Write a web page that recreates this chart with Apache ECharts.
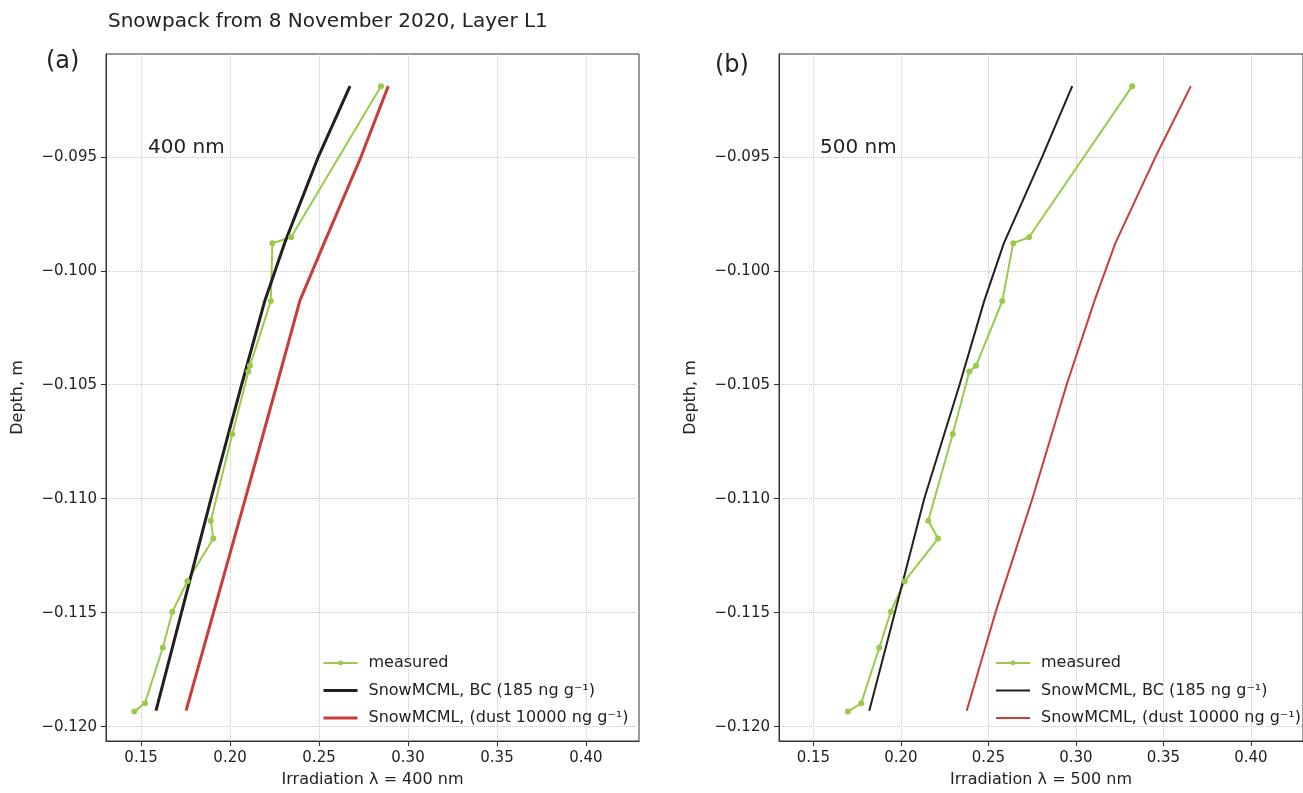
<!DOCTYPE html>
<html>
<head>
<meta charset="utf-8">
<script src="https://cdn.jsdelivr.net/npm/echarts@6.0.0/dist/echarts.min.js"></script>
<style>
  html, body { margin: 0; padding: 0; background: #fff; }
  #chart { width: 1303px; height: 793px; }
</style>
</head>
<body>
<div id="chart"></div>
<script>
// depths of the measured points (m)
var depthMeasured = [-0.0919, -0.09853, -0.09879, -0.10133, -0.10417, -0.10442, -0.10716,
  -0.11097, -0.11175, -0.11362, -0.11496, -0.11654, -0.11897, -0.11934];
var measured400 = [0.2848, 0.2343, 0.2238, 0.2229, 0.2112, 0.2103, 0.2013,
  0.1892, 0.1906, 0.1760, 0.1676, 0.1622, 0.1522, 0.1462];
var measured500 = [0.3322, 0.2732, 0.2642, 0.2579, 0.2429, 0.2391, 0.2296,
  0.2156, 0.2212, 0.2021, 0.1942, 0.1876, 0.1773, 0.1697];

// model profiles (SnowMCML)
var depthModel = [-0.0919, -0.095, -0.0988, -0.1013, -0.105, -0.110, -0.115, -0.1193];
var bc400 = [0.2674, 0.2496, 0.2306, 0.2196, 0.2065, 0.1893, 0.1727, 0.1584];
var dust400 = [0.2889, 0.2736, 0.2528, 0.2393, 0.2263, 0.2086, 0.1907, 0.1753];
var bc500 = [0.2979, 0.2807, 0.2588, 0.2477, 0.2335, 0.2133, 0.1965, 0.1819];
var dust500 = [0.3657, 0.3455, 0.3225, 0.3107, 0.2947, 0.2751, 0.2540, 0.2376];

var xTicks = [0.15, 0.20, 0.25, 0.30, 0.35, 0.40];
var yTicks = [-0.120, -0.115, -0.110, -0.105, -0.100, -0.095];

var names = ['measured', 'SnowMCML, BC (185 ng g⁻¹)', 'SnowMCML, (dust 10000 ng g⁻¹)'];
var cGreen = '#9bc94a', cBlack = '#231f20', cRed = '#c93c3b';
var font = 'DejaVu Sans';

function pairs(xs, ys) {
  return xs.map(function (v, i) { return [v, ys[i]]; });
}

function xAxisFor(idx, nm) {
  return {
    type: 'value', gridIndex: idx, min: 0.1303, max: 0.4298,
    name: 'Irradiation λ = ' + nm + ' nm', nameLocation: 'middle', nameGap: 31,
    nameTextStyle: { fontFamily: font, fontSize: 16, color: '#222' },
    axisLine: { show: true, onZero: false, lineStyle: { color: '#333', width: 1 } },
    axisTick: { show: true, inside: false, length: 5, customValues: xTicks, lineStyle: { color: '#333' } },
    axisLabel: { customValues: xTicks, margin: 10, fontFamily: font, fontSize: 15, color: '#222',
      formatter: function (v) { return v.toFixed(2); } },
    splitLine: { show: true, lineStyle: { type: 'dotted', color: '#c8c8c8', width: 1 } }
  };
}

function yAxisFor(idx) {
  return {
    type: 'value', gridIndex: idx, min: -0.12063, max: -0.09049,
    name: 'Depth, m', nameLocation: 'middle', nameGap: 80, nameRotate: 90,
    nameTextStyle: { fontFamily: font, fontSize: 16, color: '#222' },
    axisLine: { show: true, onZero: false, lineStyle: { color: '#333', width: 1 } },
    axisTick: { show: true, inside: false, length: 5, customValues: yTicks, lineStyle: { color: '#333' } },
    axisLabel: { customValues: yTicks, margin: 9, fontFamily: font, fontSize: 15, color: '#222',
      formatter: function (v) { return '\u2212' + Math.abs(v).toFixed(3); } },
    splitLine: { show: true, lineStyle: { type: 'dotted', color: '#c8c8c8', width: 1 } }
  };
}

function seriesFor(idx, meas, bc, dust, w) {
  return [{
    name: names[0], type: 'line', xAxisIndex: idx, yAxisIndex: idx,
    data: pairs(meas, depthMeasured), symbol: 'circle', symbolSize: 6, showSymbol: true,
    lineStyle: { color: cGreen, width: 2 }, itemStyle: { color: cGreen }
  }, {
    name: names[1], type: 'line', xAxisIndex: idx, yAxisIndex: idx,
    data: pairs(bc, depthModel), symbol: 'none', showSymbol: false,
    lineStyle: { color: cBlack, width: w }, itemStyle: { color: cBlack }
  }, {
    name: names[2], type: 'line', xAxisIndex: idx, yAxisIndex: idx,
    data: pairs(dust, depthModel), symbol: 'none', showSymbol: false,
    lineStyle: { color: cRed, width: w }, itemStyle: { color: cRed }
  }];
}

function legendFor(left, w) {
  return {
    orient: 'vertical', left: left, top: 655, itemWidth: 34, itemHeight: 6, itemGap: 11.5,
    padding: 0, selectedMode: false,
    data: [
      { name: names[0], lineStyle: { width: 2 } },
      { name: names[1], lineStyle: { width: w }, itemStyle: { opacity: 0 } },
      { name: names[2], lineStyle: { width: w }, itemStyle: { opacity: 0 } }
    ],
    textStyle: { fontFamily: font, fontSize: 16, color: '#222', padding: [0, 0, 0, 6] }
  };
}

function label(text, left, top, size) {
  return { text: text, left: left, top: top, padding: 0,
    textStyle: { fontFamily: font, fontSize: size, fontWeight: 'normal', color: '#222' } };
}

var chart = echarts.init(document.getElementById('chart'), null, { renderer: 'canvas' });
chart.setOption({
  animation: false,
  backgroundColor: '#ffffff',
  title: [
    label('Snowpack from 8 November 2020, Layer L1', 108, 12, 20),
    label('(a)', 46, 50, 24),
    label('(b)', 715, 54, 24),
    label('400 nm', 148, 138, 20),
    label('500 nm', 820, 138, 20)
  ],
  legend: [legendFor(322, 3), legendFor(995, 2)],
  grid: [
    { left: 106, top: 54, width: 533, height: 689, show: true, borderColor: '#333', borderWidth: 1 },
    { left: 779, top: 54, width: 533, height: 689, show: true, borderColor: '#333', borderWidth: 1 }
  ],
  xAxis: [xAxisFor(0, 400), xAxisFor(1, 500)],
  yAxis: [yAxisFor(0), yAxisFor(1)],
  series: seriesFor(0, measured400, bc400, dust400, 3).concat(seriesFor(1, measured500, bc500, dust500, 2))
});
</script>
</body>
</html>
